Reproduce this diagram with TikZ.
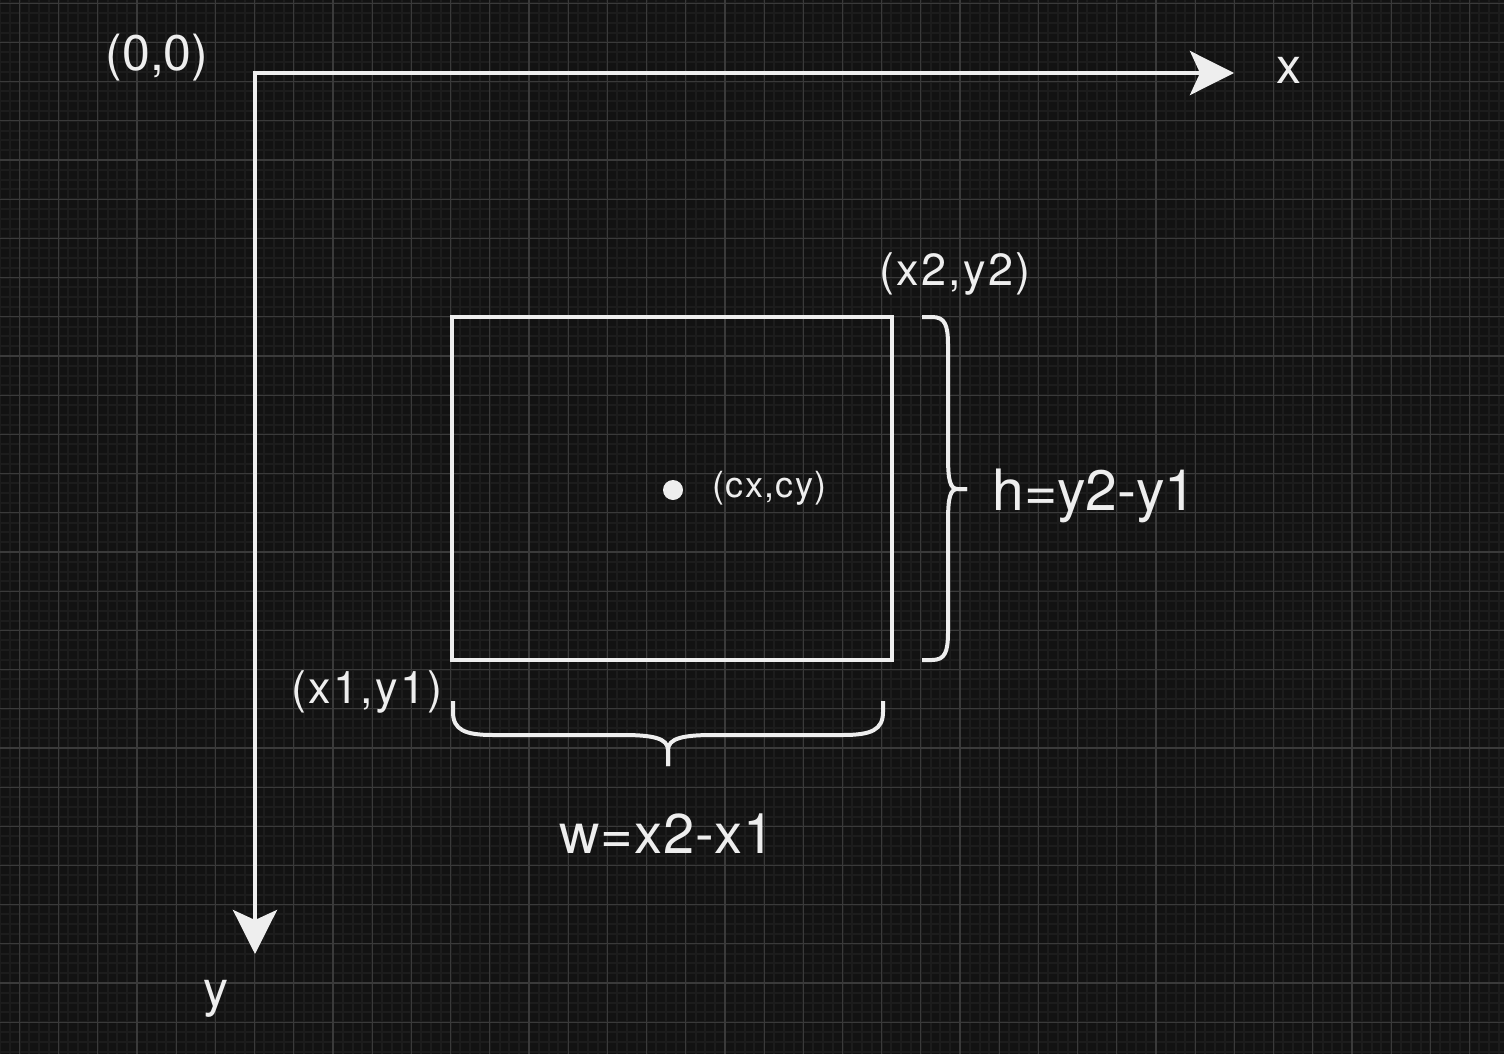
\documentclass[tikz,border=0pt]{standalone}
\usepackage{fontspec}
\setmainfont{TeX Gyre Heros}
\usetikzlibrary{arrows.meta}
\definecolor{bgc}{HTML}{121212}
\definecolor{minorc}{HTML}{1C1C1C}
\definecolor{majorc}{HTML}{3A3A3A}
\definecolor{inkc}{HTML}{EEEEEE}
\begin{document}
\begin{tikzpicture}[x=1pt,y=-1pt,
  minorline/.style={draw=minorc,line width=2pt},
  majorline/.style={draw=majorc,line width=1.2pt},
  thick line/.style={draw=inkc,line width=4pt},
  bigtip/.tip={Stealth[length=44pt,width=44pt,inset=10pt]},
  lbl/.style={text=inkc,inner sep=0pt,anchor=base},
  rectbox/.style={draw=inkc,line width=4pt,inner sep=0pt,minimum width=440pt,minimum height=343pt},
  dotc/.style={circle,fill=inkc,inner sep=0pt,minimum size=20pt}]
\fill[bgc] (0,0) rectangle (1504,1054);
\useasboundingbox (0,0) rectangle (1504,1054);
% grid
\foreach \i in {-2,...,152} {\draw[minorline] ({19.5+\i*9.7975},0) -- ({19.5+\i*9.7975},1054);}
\foreach \j in {-1,...,107} {\draw[minorline] (0,{3.3+\j*9.7975}) -- (1504,{3.3+\j*9.7975});}
\foreach \i in {0,...,37} {\draw[majorline] ({19.5+\i*39.19},0) -- ({19.5+\i*39.19},1054);}
\foreach \j in {0,...,26} {\draw[majorline] (0,{3.3+\j*39.19}) -- (1504,{3.3+\j*39.19});}
% axes
\coordinate (O) at (255,73);
\coordinate (XE) at (1234,73);
\coordinate (YE) at (255,954);
\draw[thick line,{bigtip}-{bigtip}] (XE) -- (O) -- (YE);
\node[lbl,font=\fontsize{50}{60}\selectfont] (origin) at (157,71) {(0,0)};
\node[lbl,font=\fontsize{50}{60}\selectfont] (xlab) at (1289,84) {x};
\node[lbl,font=\fontsize{50}{60}\selectfont] (ylab) at (216,1006) {y};
% rectangle
\node[rectbox] (R) at (672,488.5) {};
\node[dotc] (C) at (673,490) {};
\node[lbl,font=\fontsize{36}{42}\selectfont\addfontfeatures{LetterSpace=4}] (clab) at (769.5,497) {(cx,cy)};
\node[lbl,font=\fontsize{45}{54}\selectfont\addfontfeatures{LetterSpace=5}] (p2) at (955,285) {(x2,y2)};
\node[lbl,font=\fontsize{45}{54}\selectfont\addfontfeatures{LetterSpace=5}] (p1) at (367,703) {(x1,y1)};
% right brace
\coordinate (RT) at (922,317);
\coordinate (RB) at (922,660);
\coordinate (RM) at (967,489);
\draw[thick line] (RT) -- (932,317) .. controls (945,317) and (948,325) .. (948,345) -- (948,455) .. controls (948,481) and (950,489) .. (958,489) -- (RM);
\draw[thick line] (RM) -- (958,489) .. controls (950,489) and (948,497) .. (948,523) -- (948,632) .. controls (948,652) and (945,660) .. (932,660) -- (RB);
\node[lbl,font=\fontsize{57}{66}\selectfont] (hlab) at (1094.5,510) {h=y2-y1};
% bottom brace
\coordinate (BL) at (453,701);
\coordinate (BR) at (883,701);
\coordinate (BM) at (668,766);
\draw[thick line] (BL) -- (453,712) .. controls (453,730) and (465,735) .. (493,735) -- (623,735) .. controls (652,735) and (668,738) .. (668,750) -- (BM);
\draw[thick line] (BR) -- (883,712) .. controls (883,730) and (871,735) .. (843,735) -- (713,735) .. controls (684,735) and (668,738) .. (668,750) -- (BM);
\node[lbl,font=\fontsize{56}{66}\selectfont\addfontfeatures{LetterSpace=1.5}] (wlab) at (667,853) {w=x2-x1};
\end{tikzpicture}
\end{document}
